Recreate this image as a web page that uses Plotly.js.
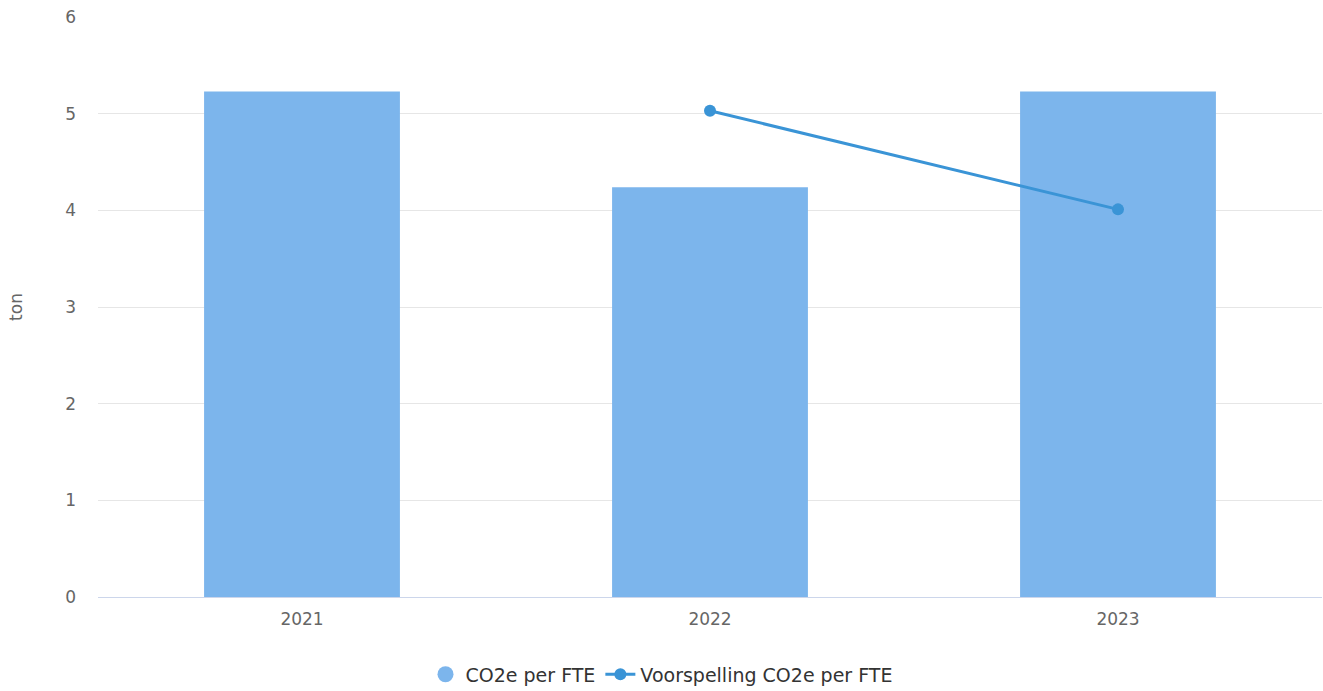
<!DOCTYPE html>
<html><head><meta charset="utf-8">
<script src="https://cdn.plot.ly/plotly-3.0.1.min.js"></script>
<style>html,body{margin:0;padding:0;background:#fff}#c{width:1323px;height:691px}</style>
</head><body><div id="c"></div>
<script>
const years = ['2021', '2022', '2023'];
const co2PerFte = [5.23, 4.24, 5.23];
const forecastYears = ['2022', '2023'];
const forecastCo2PerFte = [5.03, 4.01];
const yTicks = [0, 1, 2, 3, 4, 5, 6];

const fam = 'DejaVu Sans, Verdana, sans-serif';
const tickFont = {family: fam, size: 17, color: '#666666'};
const barColor = '#7cb5ec';
const data = [
  {type: 'bar', x: years, y: co2PerFte, name: 'CO2e per FTE', showlegend: false,
   legendgroup: 'bar', marker: {color: barColor, line: {width: 0}}, hoverinfo: 'x+y'},
  {type: 'scatter', mode: 'markers', x: [null], y: [null], name: 'CO2e per FTE',
   legendgroup: 'bar', marker: {color: barColor, size: 18, symbol: 'circle'}, hoverinfo: 'skip'},
  {type: 'scatter', mode: 'lines+markers', x: forecastYears, y: forecastCo2PerFte,
   name: 'Voorspelling CO2e per FTE',
   line: {color: '#3a94d6', width: 3}, marker: {color: '#3a94d6', size: 12}}
];
const layout = {
  width: 1323, height: 691,
  margin: {l: 98, r: 1, t: 17, b: 94},
  paper_bgcolor: '#fff', plot_bgcolor: '#fff',
  font: {family: fam, size: 17, color: '#666666'},
  bargap: 0.52,
  showlegend: true,
  legend: {orientation: 'h', x: 0.5, xanchor: 'center', xref: 'container',
           y: 0.024, yanchor: 'middle', yref: 'container', itemwidth: 30,
           tracegroupgap: 0,
           font: {family: fam, size: 19, color: '#333333'}},
  xaxis: {type: 'category', showgrid: false, showline: true, linecolor: '#ccd6eb', linewidth: 1,
          ticks: '', tickfont: tickFont, zeroline: false, ticklabelstandoff: 7},
  yaxis: {range: [0, 6], tickvals: yTicks, showgrid: true, gridcolor: '#e6e6e6', gridwidth: 1,
          zeroline: false, showline: false, tickfont: tickFont, ticklabelstandoff: 21,
          title: {text: 'ton', font: {family: fam, size: 17, color: '#666666'}, standoff: 38}}
};
Plotly.newPlot('c', data, layout, {displayModeBar: false});
</script></body></html>
